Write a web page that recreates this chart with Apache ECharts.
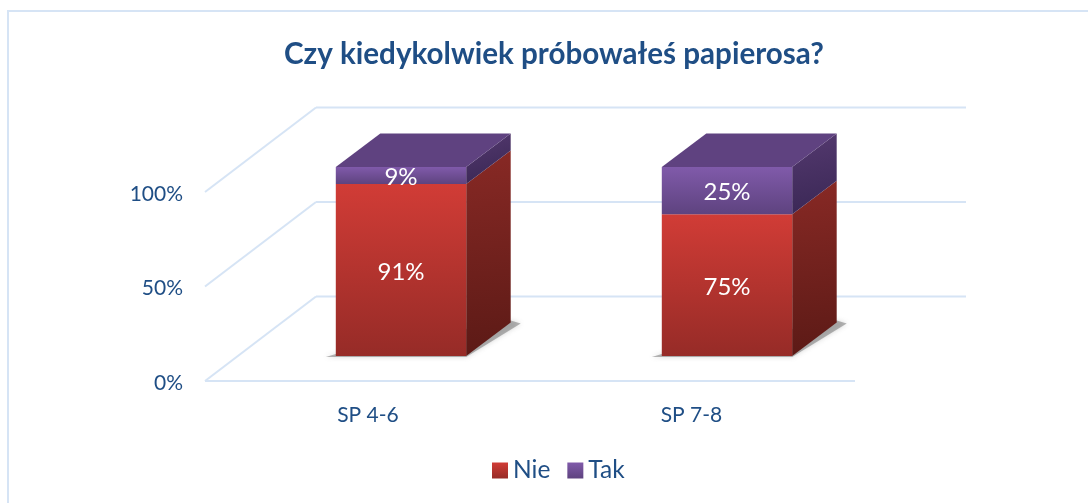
<!DOCTYPE html>
<html><head><meta charset="utf-8">
<style>html,body{margin:0;padding:0;background:#fff}#c{width:1088px;height:503px}</style>
<script src="https://cdn.jsdelivr.net/npm/echarts@6/dist/echarts.min.js"></script>
</head><body><div id="c"></div>
<script>
const categories = ['SP 4-6', 'SP 7-8'];
const nie = [91, 75];
const tak = [9, 25];
const seriesNames = ['Nie', 'Tak'];
const ticks = [0, 50, 100];
const titleText = 'Czy kiedykolwiek próbowałeś papierosa?';

const FONT = 'Lato, "Open Sans", sans-serif';
const TEXT = '#1F4E85';
const GRID = '#D6E4F5';
const WALL = [111, -84.5];
const BAR_OFF = [33, -25];
const BAR_DEPTH = [44.5, -33.5];
const BAR_SCALE = 0.4;
const FLOOR_TRIM = 2;

function grad(a, b, x2, y2) {
  return { type: 'linear', x: 0, y: 0, x2: x2 === undefined ? 0 : x2, y2: y2 === undefined ? 1 : y2,
    colorStops: [{ offset: 0, color: a }, { offset: 1, color: b }] };
}
const RED = { front: grad('#D13C36', '#962B27'), side: grad('#882925', '#5C1A16', 0.35, 1) };
const PUR = { front: grad('#805AAA', '#5E437F'), side: grad('#54396F', '#3B2856', 0.35, 1), top: '#5F4280' };

function poly(points, fill, z2) {
  return { type: 'polygon', shape: { points }, style: { fill, stroke: null }, z2: z2 || 0 };
}

function makeBoxRender(vals, bases, pal) {
  return function (params, api) {
    const i = api.value(0);
    const base = bases[i], val = vals[i];
    const p0 = api.coord([i, base]), p1 = api.coord([i, base + val]);
    const w = api.size([1, 0])[0] * BAR_SCALE;
    const l = p0[0] - w / 2 + BAR_OFF[0], r = l + w;
    const b = p0[1] + BAR_OFF[1], t = p1[1] + BAR_OFF[1];
    const dx = BAR_DEPTH[0], dy = BAR_DEPTH[1];
    const kids = [];
    if (base === 0) {
      kids.push({
        type: 'polygon', silent: true,
        shape: { points: [[l - 10, b + 1], [r, b + 1], [r + dx + 10, b + dy + 1], [r + dx, b + dy - 2], [l, b - 2]] },
        style: { fill: 'rgba(120,120,120,0.55)', shadowBlur: 5, shadowColor: 'rgba(120,120,120,0.55)' }, z2: 0
      });
    }
    kids.push(poly([[r, b], [r + dx, b + dy], [r + dx, t + dy], [r, t]], pal.side, 1));
    kids.push(poly([[l, b], [r, b], [r, t], [l, t]], pal.front, 2));
    if (pal.top) kids.push(poly([[l, t], [r, t], [r + dx, t + dy], [l + dx, t + dy]], pal.top, 3));
    kids.push({
      type: 'text', z2: 5,
      style: { x: (l + r) / 2, y: (t + b) / 2 + 2, text: val + '%', fill: '#fff',
        font: '24px ' + FONT, align: 'center', verticalAlign: 'middle' }
    });
    return { type: 'group', children: kids };
  };
}

function wallRender(params, api) {
  const v = api.value(0);
  const idx = api.value(1);
  const left = api.coord([0, v]);
  const band = api.size([1, 0])[0];
  const x0 = left[0] - band / 2, y0 = left[1];
  const x1 = x0 + WALL[0], y1 = y0 + WALL[1];
  const span = band * categories.length - FLOOR_TRIM;
  const st = { stroke: GRID, lineWidth: 2, fill: null };
  const kids = [
    { type: 'line', shape: { x1: x0, y1: y0, x2: x1, y2: y1 }, style: st },
    { type: 'line', shape: { x1: x1, y1: y1, x2: x1 + span, y2: y1 }, style: st }
  ];
  if (idx === 0) kids.push({ type: 'line', shape: { x1: x0, y1: y0, x2: x0 + span, y2: y0 }, style: st });
  return { type: 'group', children: kids };
}

const chart = echarts.init(document.getElementById('c'), null, { renderer: 'canvas' });
chart.setOption({
  animation: false,
  backgroundColor: '#fff',
  title: { text: titleText, left: 284, top: 39, padding: 0,
    textStyle: { fontFamily: FONT, fontWeight: 'bold', fontSize: 29.6, color: TEXT } },
  graphic: [{ type: 'polyline', silent: true, z: -1,
    shape: { points: [[8, 503], [8, 11], [1088, 11]] },
    style: { stroke: GRID, lineWidth: 2, fill: null } }],
  legend: { data: seriesNames, left: 492, top: 458, padding: 0, itemWidth: 16, itemHeight: 16, itemGap: 17,
    textStyle: { fontFamily: FONT, fontSize: 24.5, color: TEXT }, icon: 'rect' },
  grid: { left: 205, top: 192, width: 652, height: 189 },
  xAxis: { type: 'category', data: categories, axisLine: { show: false }, axisTick: { show: false },
    axisLabel: { margin: 24, fontFamily: FONT, fontSize: 21, color: TEXT,
      formatter: (v, i) => i === 1 ? '{s|' + v + '}' : v,
      rich: { s: { fontFamily: FONT, fontSize: 21, color: TEXT, padding: [0, 5, 0, 0] } } } },
  yAxis: { type: 'value', min: 0, max: 100, interval: 50, splitLine: { show: false },
    axisLine: { show: false }, axisTick: { show: false },
    axisLabel: { margin: 22, formatter: v => '{s|' + v + '%}',
      rich: { s: { fontFamily: FONT, fontSize: 21, color: TEXT, padding: [4, 0, 0, 0] } } } },
  series: [
    { type: 'custom', name: 'walls', silent: true, z: 1, clip: false, renderItem: wallRender,
      data: ticks.map((t, i) => [t, i]), encode: { x: -1, y: 0 } },
    { type: 'custom', name: seriesNames[0], z: 2, clip: false, itemStyle: { color: RED.front },
      renderItem: makeBoxRender(nie, [0, 0], RED), data: categories.map((c, i) => [i, nie[i]]), encode: { x: 0, y: 1 } },
    { type: 'custom', name: seriesNames[1], z: 3, clip: false, itemStyle: { color: PUR.front },
      renderItem: makeBoxRender(tak, nie, PUR), data: categories.map((c, i) => [i, tak[i] + nie[i]]), encode: { x: 0, y: 1 } }
  ]
});
</script></body></html>
